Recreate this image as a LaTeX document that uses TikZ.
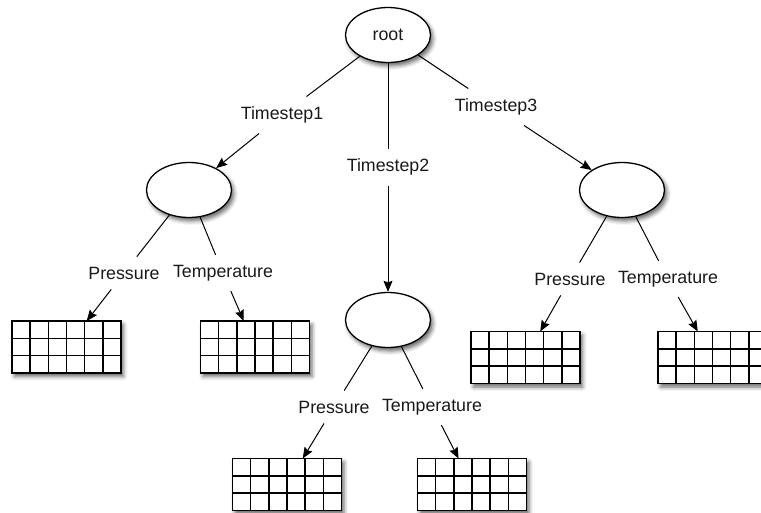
\documentclass[tikz,border=0pt]{standalone}
\usepackage{fontspec}
\setmainfont{Liberation Sans}
\usetikzlibrary{shapes.geometric,arrows.meta,shadows.blur,calc}
\begin{document}
\begin{tikzpicture}[x=1pt,y=-1pt,
  every node/.style={font=\fontsize{17.8}{20}\selectfont, text=black!90},
  softshadow/.style={blur shadow={shadow xshift=2.5pt,shadow yshift=-3.5pt,shadow blur radius=4pt,shadow opacity=60}},
  ell/.style={ellipse, draw, line width=1.3pt, fill=white, minimum width=85pt, minimum height=55pt, inner sep=0pt, softshadow},
  lab/.style={inner xsep=3pt, inner ysep=10pt},
  tbl/.style={rectangle, draw, line width=1.7pt, fill=white, minimum width=109pt, minimum height=52pt, inner sep=0pt, outer sep=0pt, softshadow},
  gridline/.style={line width=1.5pt},
  conn/.style={draw, line width=1pt},
  arr/.style={conn, -{Stealth[length=11pt,width=9pt,inset=1.5pt]}}
]
\useasboundingbox (0,0) rectangle (761,512);
\clip (0,0) rectangle (761,512);

% ellipses
\node[ell] (root) at (388,35) {root};
\node[ell] (e1) at (189,190) {};
\node[ell] (e2) at (388,320) {};
\node[ell] (e3) at (622,190) {};

% timestep labels
\node[lab] (t1) at (282,115) {Timestep1};
\node[lab] (t2) at (388,167) {Timestep2};
\node[lab] (t3) at (496,107) {Timestep3};

% variable labels
\node[lab] (p1) at (124,273) {Pressure};
\node[lab] (q1) at (223,273) {Temperature};
\node[lab] (p2) at (334,407) {Pressure};
\node[lab] (q2) at (432,407) {Temperature};
\node[lab] (p3) at (570,279) {Pressure};
\node[lab] (q3) at (668,279) {Temperature};

% tables
\node[tbl] (g1) at (66.5,347) {};
\node[tbl] (g2) at (255,347) {};
\node[tbl] (g3) at (287,484.5) {};
\node[tbl] (g4) at (472,484.5) {};
\node[tbl] (g5) at (525.5,357.5) {};
\node[tbl] (g6) at (712.5,357.5) {};

\foreach \g in {g1,g2,g3,g4,g5,g6}{
  \foreach \i in {1,...,5}
    \draw[gridline] ($(\g.north west)!\i/6!(\g.north east)$) -- ($(\g.south west)!\i/6!(\g.south east)$);
  \foreach \j in {1,2}
    \draw[gridline] ($(\g.north west)!\j/3!(\g.south west)$) -- ($(\g.north east)!\j/3!(\g.south east)$);
}

% connectors
\draw[conn] (root) -- (t1);
\draw[conn] (root) -- (t2);
\draw[conn] (root) -- (t3);
\draw[arr] (t1) -- (e1);
\draw[arr] (t2) -- (e2);
\draw[arr] (t3) -- (e3);

\draw[conn] (e1) -- (p1);
\draw[conn] (e1) -- (q1);
\draw[conn] (e2) -- (p2);
\draw[conn] (e2) -- (q2);
\draw[conn] (e3) -- (p3);
\draw[conn] (e3) -- (q3);

\draw[arr] (p1) -- (g1);
\draw[arr] (q1) -- (g2);
\draw[arr] (p2) -- (g3);
\draw[arr] (q2) -- (g4);
\draw[arr] (p3) -- (g5);
\draw[arr] (q3) -- (g6);
\end{tikzpicture}
\end{document}
